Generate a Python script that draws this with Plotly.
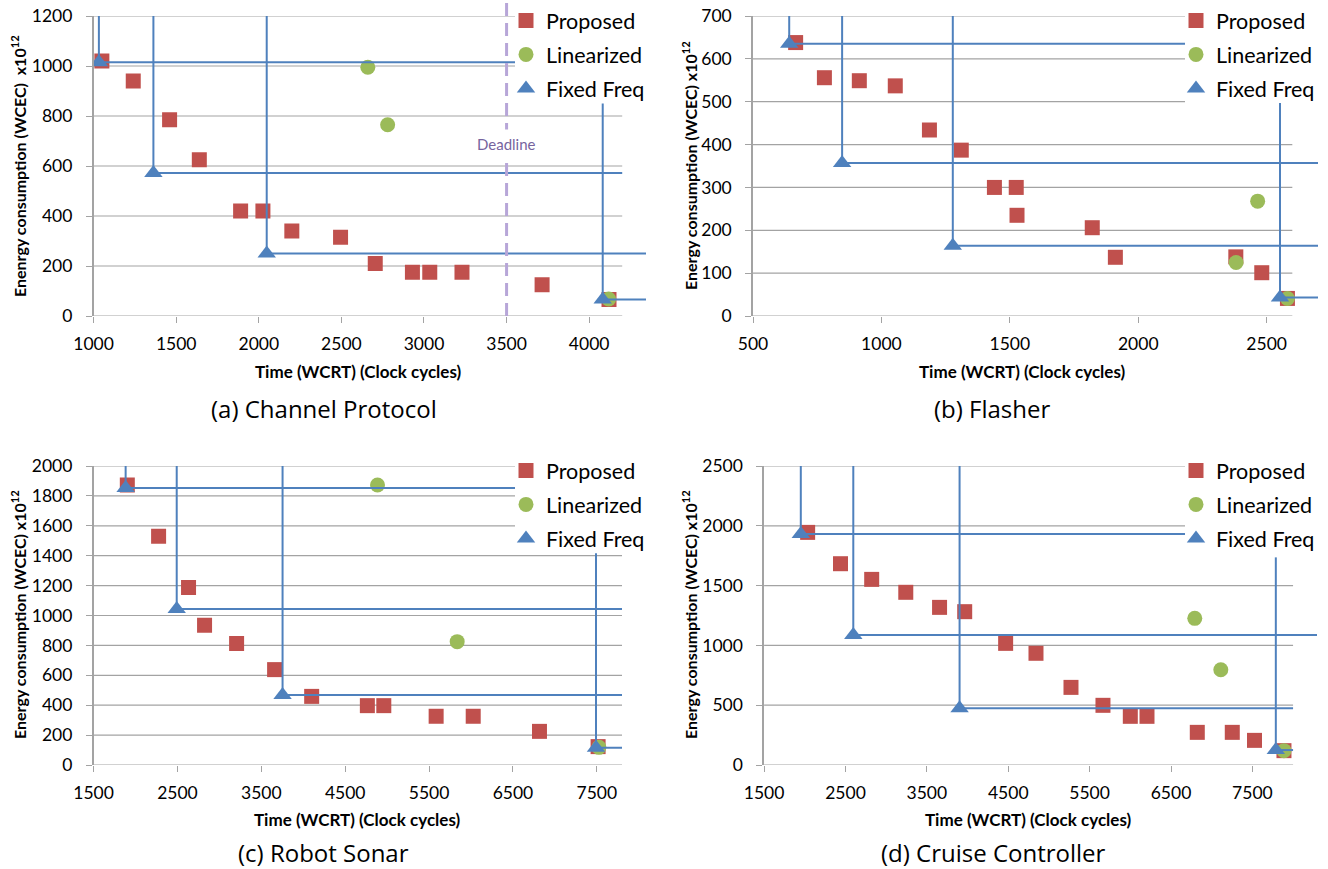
import plotly.graph_objects as go

# ---------------- data ----------------
# (a) Channel Protocol
prop_x_a = [1050, 1240, 1460, 1640, 1890, 2025, 2200, 2495, 2705, 2930, 3035, 3230, 3715, 4120]
prop_y_a = [1020, 940, 785, 625, 420, 420, 340, 315, 210, 175, 175, 175, 125, 66]
lin_x_a = [2660, 2780, 4118]
lin_y_a = [995, 765, 68]
ff_x_a = [1032, 1362, 2048, 4082]
ff_y_a = [1015, 572, 250, 66]
ff_xend_a = [None, 4200, None, None]
ff_yend_a = [None, None, None, 850]
deadline_a = 3500

# (b) Flasher
prop_x_b = [666, 778, 914, 1054, 1187, 1311, 1440, 1525, 1528, 1821, 1911, 2380, 2481, 2581]
prop_y_b = [638, 556, 549, 537, 434, 387, 300, 300, 235, 206, 137, 138, 101, 41]
lin_x_b = [2465, 2381, 2581]
lin_y_b = [268, 125, 41]
ff_x_b = [641, 847, 1278, 2552]
ff_y_b = [635, 357, 164, 43]
ff_xend_b = [None, None, None, None]
ff_yend_b = [None, None, None, 499]

# (c) Robot Sonar
prop_x_c = [1902, 2275, 2632, 2823, 3205, 3658, 4100, 4764, 4960, 5584, 6026, 6816, 7515]
prop_y_c = [1873, 1530, 1188, 934, 812, 638, 459, 397, 397, 326, 326, 225, 123]
lin_x_c = [4885, 5835, 7525]
lin_y_c = [1873, 825, 118]
ff_x_c = [1882, 2491, 3753, 7490]
ff_y_c = [1853, 1043, 468, 116]
ff_xend_c = [None, None, None, None]
ff_yend_c = [None, None, None, 1416]

# (d) Cruise Controller
prop_x_d = [2035, 2439, 2822, 3241, 3656, 3965, 4468, 4841, 5271, 5664, 6000, 6205, 6823, 7253, 7526, 7888]
prop_y_d = [1945, 1683, 1552, 1444, 1318, 1282, 1017, 934, 649, 499, 407, 407, 273, 273, 206, 120]
lin_x_d = [6792, 7112, 7888]
lin_y_d = [1226, 797, 120]
ff_x_d = [1951, 2596, 3902, 7788]
ff_y_d = [1931, 1087, 474, 125]
ff_xend_d = [None, None, 8000, 8000]
ff_yend_d = [None, None, None, 1736]

# ticks / axis extents
xticks_a = [1000, 1500, 2000, 2500, 3000, 3500, 4000]
yticks_a = [0, 200, 400, 600, 800, 1000, 1200]
xticks_b = [500, 1000, 1500, 2000, 2500]
yticks_b = [0, 100, 200, 300, 400, 500, 600, 700]
xticks_c = [1500, 2500, 3500, 4500, 5500, 6500, 7500]
yticks_c = [0, 200, 400, 600, 800, 1000, 1200, 1400, 1600, 1800, 2000]
xticks_d = [1500, 2500, 3500, 4500, 5500, 6500, 7500]
yticks_d = [0, 500, 1000, 1500, 2000, 2500]
grid_max_a, grid_max_b, grid_max_c, grid_max_d = 4200, 2600, 7800, 8000

series_names = ["Proposed", "Linearized", "Fixed Freq"]
captions = ["(a) Channel Protocol", "(b) Flasher", "(c) Robot Sonar", "(d) Cruise Controller"]
ytitles = ["Enenrgy consumption (WCEC)  x10<sup>12</sup>",
           "Energy consumption (WCEC) x10<sup>12</sup>",
           "Energy consumption (WCEC) x10<sup>12</sup>",
           "Energy consumption (WCEC) x10<sup>12</sup>"]
xtitle = "Time (WCRT) (Clock cycles)"

# ---------------- styling / layout ----------------
W, H = 1328, 869
RED, GREEN, BLUE = "#C0504D", "#9BBB59", "#4F81BD"
GRID = "#A3A3A3"
FONT = "Lato"

def px(x):
    return x / W

def py(y):
    return 1 - y / H

panels = [
    dict(prop=(prop_x_a, prop_y_a), lin=(lin_x_a, lin_y_a), ff=(ff_x_a, ff_y_a),
         xend=ff_xend_a, yend=ff_yend_a, xticks=xticks_a, yticks=yticks_a, gmax=grid_max_a,
         xrange=[1000, 4344], box=(93.6, 646, 16, 316), leg=(506, 0),
         cover=(515, 660, -5, 103),
         cap=(324, 409), xt=(358, 372), yt=(18, 166)),
    dict(prop=(prop_x_b, prop_y_b), lin=(lin_x_b, lin_y_b), ff=(ff_x_b, ff_y_b),
         xend=ff_xend_b, yend=ff_yend_b, xticks=xticks_b, yticks=yticks_b, gmax=grid_max_b,
         xrange=[500, 2700], box=(753, 1318, 16, 316), leg=(1176, 0),
         cover=(1185, 1330, -5, 103),
         cap=(992, 409), xt=(1022, 372), yt=(689, 166)),
    dict(prop=(prop_x_c, prop_y_c), lin=(lin_x_c, lin_y_c), ff=(ff_x_c, ff_y_c),
         xend=ff_xend_c, yend=ff_yend_c, xticks=xticks_c, yticks=yticks_c, gmax=grid_max_c,
         xrange=[1500, 7800], box=(93.6, 622, 466, 765), leg=(506, 450),
         cover=(515, 660, 445, 552),
         cap=(323, 852), xt=(357, 819), yt=(18, 615)),
    dict(prop=(prop_x_d, prop_y_d), lin=(lin_x_d, lin_y_d), ff=(ff_x_d, ff_y_d),
         xend=ff_xend_d, yend=ff_yend_d, xticks=xticks_d, yticks=yticks_d, gmax=grid_max_d,
         xrange=[1500, 8294], box=(764.1, 1317, 466, 765), leg=(1176, 450),
         cover=(1185, 1330, 445, 552),
         cap=(993, 852), xt=(1028, 819), yt=(689, 615)),
]

fig = go.Figure()
layout = dict(width=W, height=H, margin=dict(l=0, r=0, t=0, b=0, autoexpand=False),
              paper_bgcolor="white", plot_bgcolor="white", showlegend=True,
              font=dict(family=FONT, color="black"))
shapes, annotations = [], []

for i, p in enumerate(panels):
    n = "" if i == 0 else str(i + 1)
    xa, ya, lg = "x" + n, "y" + n, "legend" + n
    x0, x1, y0, y1 = p["box"]
    xmax = p["xrange"][1]
    ymax = p["yticks"][-1]
    big_x = xmax * 3
    big_y = ymax * 3
    fx, fy = p["ff"]
    err_x = [((e if e is not None else big_x) - v) for v, e in zip(fx, p["xend"])]
    err_y = [((e if e is not None else big_y) - v) for v, e in zip(fy, p["yend"])]

    fig.add_trace(go.Scatter(x=p["prop"][0], y=p["prop"][1], mode="markers", name=series_names[0],
                             marker=dict(symbol="square", size=15, color=RED),
                             xaxis=xa, yaxis=ya, legend=lg, legendgroup=f"{i}p"))
    fig.add_trace(go.Scatter(x=p["lin"][0], y=p["lin"][1], mode="markers", name=series_names[1],
                             marker=dict(symbol="circle", size=15, color=GREEN),
                             xaxis=xa, yaxis=ya, legend=lg, legendgroup=f"{i}l"))
    fig.add_trace(go.Scatter(x=fx, y=fy, mode="markers", name=series_names[2],
                             marker=dict(symbol="triangle-up", size=16, color=BLUE),
                             error_x=dict(type="data", symmetric=False, array=err_x,
                                          arrayminus=[0] * len(fx), color=BLUE, thickness=2, width=0),
                             error_y=dict(type="data", symmetric=False, array=err_y,
                                          arrayminus=[0] * len(fy), color=BLUE, thickness=2, width=0),
                             xaxis=xa, yaxis=ya, legend=lg, legendgroup=f"{i}f"))

    layout["xaxis" + n] = dict(domain=[px(x0), px(x1)], anchor=ya, range=p["xrange"],
                               automargin=False,
                               showgrid=False, zeroline=False, showline=False,
                               ticks="outside", ticklen=6, tickwidth=1, tickcolor=GRID,
                               tickvals=p["xticks"], tickfont=dict(family=FONT, size=17.5, color="black"),
                               ticklabelstandoff=6)
    layout["yaxis" + n] = dict(domain=[py(y1), py(y0)], anchor=xa, range=[0, ymax],
                               automargin=False,
                               showgrid=False, zeroline=False, showline=True, linecolor=GRID,
                               linewidth=1.5, ticks="outside", ticklen=6, tickwidth=1, tickcolor=GRID,
                               tickvals=p["yticks"], tickfont=dict(family=FONT, size=17.5, color="black"),
                               ticklabelstandoff=10)
    for v in p["yticks"]:
        shapes.append(dict(type="line", xref=xa, yref=ya, x0=p["xrange"][0], x1=p["gmax"],
                           y0=v, y1=v, line=dict(color=GRID, width=1.2), layer="below"))

    # white area behind the legend (the legend box hides the lines under it)
    cx0, cx1, cy0, cy1 = p["cover"]
    shapes.append(dict(type="rect", xref="paper", yref="paper", x0=px(cx0), x1=px(cx1),
                       y0=py(cy1), y1=py(cy0), fillcolor="white", line=dict(width=0),
                       layer="above"))

    layout[lg] = dict(x=px(p["leg"][0]), y=py(p["leg"][1]), xanchor="left", yanchor="top",
                      bgcolor="rgba(0,0,0,0)", borderwidth=0, tracegroupgap=3,
                      font=dict(family=FONT, size=21.5, color="black"))

    annotations.append(dict(text=captions[i], x=px(p["cap"][0]), y=py(p["cap"][1]),
                            xref="paper", yref="paper", showarrow=False,
                            xanchor="center", yanchor="middle", borderpad=0,
                            font=dict(family="Open Sans", size=24, color="black")))
    annotations.append(dict(text="<b>" + xtitle + "</b>", x=px(p["xt"][0]), y=py(p["xt"][1]),
                            xref="paper", yref="paper", showarrow=False,
                            xanchor="center", yanchor="middle",
                            font=dict(family=FONT, size=17, color="black")))
    annotations.append(dict(text="<b>" + ytitles[i] + "</b>", x=px(p["yt"][0]), y=py(p["yt"][1]),
                            xref="paper", yref="paper", showarrow=False, textangle=-90,
                            xanchor="center", yanchor="middle",
                            font=dict(family=FONT, size=16, color="black")))

# deadline marker in panel (a)
shapes.append(dict(type="line", xref="x", yref="paper", x0=deadline_a, x1=deadline_a,
                   y0=py(316), y1=1.0, line=dict(color="#B7A6D8", width=3, dash="13px,7px"),
                   layer="above"))
annotations.append(dict(text="Deadline", x=deadline_a, xref="x", y=py(144), yref="paper",
                        showarrow=False, bgcolor="white", borderpad=5,
                        xanchor="center", yanchor="middle",
                        font=dict(family=FONT, size=15, color="#76649E")))

layout["shapes"] = shapes
layout["annotations"] = annotations
fig.update_layout(**layout)

fig.write_html("out.html", config={"displayModeBar": False},
               post_script="document.body.style.margin='0';document.body.style.overflow='hidden';")
